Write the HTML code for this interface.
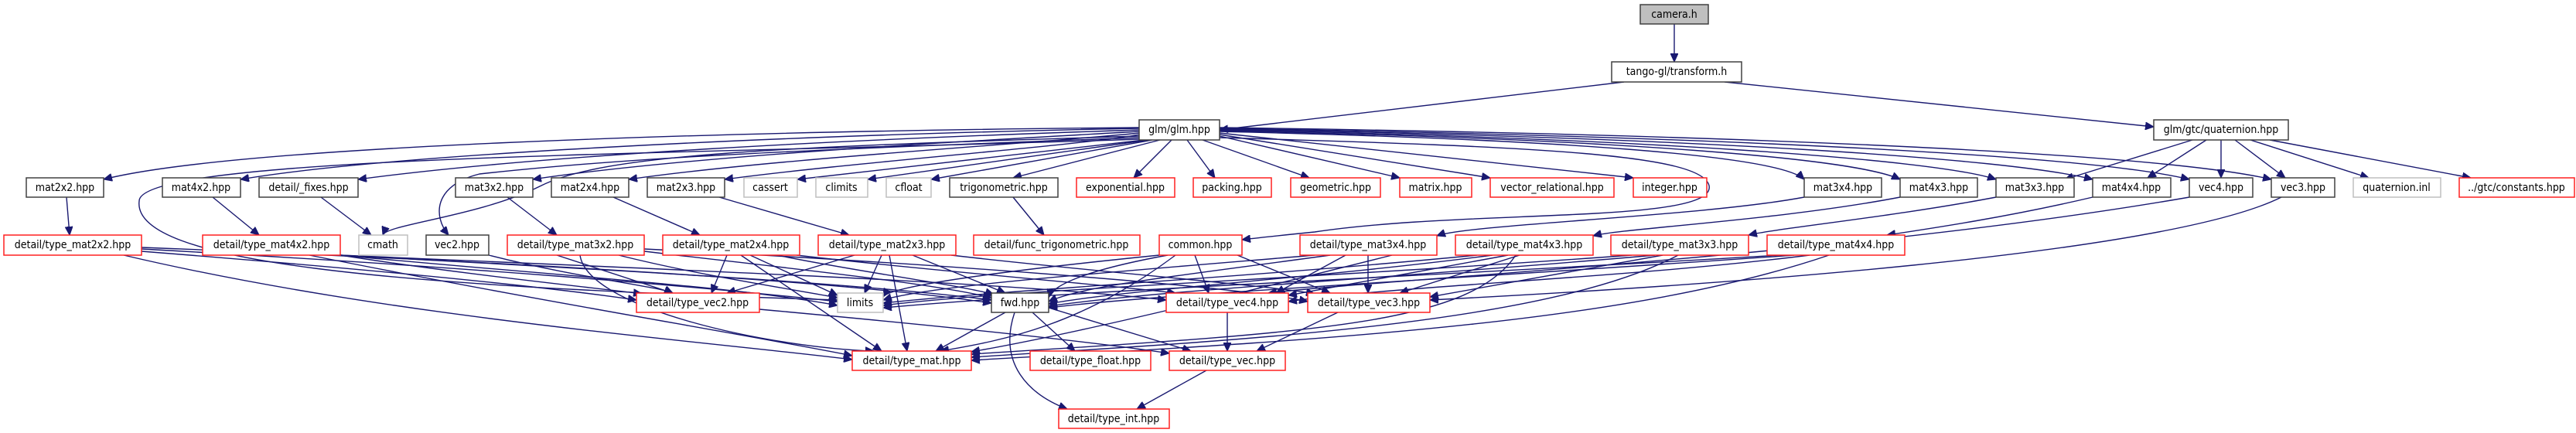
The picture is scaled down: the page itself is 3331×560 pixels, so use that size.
<!DOCTYPE html>
<html><head><meta charset="utf-8"><style>
html,body{margin:0;padding:0;background:#fff;width:3331px;height:560px;overflow:hidden}
svg{display:block}
text{font-family:"DejaVu Sans Condensed","DejaVu Sans","Liberation Sans",sans-serif;font-size:14px;fill:#000;text-anchor:middle;dominant-baseline:central}
.b{fill:#fff;stroke:#404040;stroke-width:1.5}
.r{fill:#fff;stroke:#ff2020;stroke-width:1.5}
.g{fill:#fff;stroke:#bfbfbf;stroke-width:1.5}
.e path{fill:none;stroke:#191970;stroke-width:1.4}
</style></head><body>
<svg width="3331" height="560" viewBox="0 0 3331 560" xmlns="http://www.w3.org/2000/svg">
<defs><marker id="a" markerUnits="userSpaceOnUse" markerWidth="12" markerHeight="10" refX="11" refY="5" orient="auto"><path d="M0,0 L11,5 L0,10 z" fill="#191970" stroke="#191970"/></marker></defs>
<g class="e" marker-end="url(#a)">
<path marker-end="url(#a)" d="M2165 31 L2165 80"/>
<path marker-end="url(#a)" d="M2100 106 L1577 168"/>
<path marker-end="url(#a)" d="M2230 106 L2785 164"/>
<!-- glm fan-out -->
<path marker-end="url(#a)" d="M1473 165 C900 170 300 190 134 232"/>
<path marker-end="url(#a)" d="M1473 166 C1000 175 500 200 311 232"/>
<path marker-end="url(#a)" d="M1473 168 C1100 180 700 200 463 232"/>
<path marker-end="url(#a)" d="M1473 170 C1300 180 900 200 689 232"/>
<path marker-end="url(#a)" d="M1473 172 C1350 185 1000 205 813 232"/>
<path marker-end="url(#a)" d="M1473 174 C1400 188 1100 210 937 232"/>
<path marker-end="url(#a)" d="M1480 181 L1031 232"/>
<path marker-end="url(#a)" d="M1485 181 L1122 232"/>
<path marker-end="url(#a)" d="M1490 181 L1204 232"/>
<path marker-end="url(#a)" d="M1500 181 L1310 230"/>
<path marker-end="url(#a)" d="M1515 181 L1466 230"/>
<path marker-end="url(#a)" d="M1535 181 L1571 230"/>
<path marker-end="url(#a)" d="M1555 181 L1693 230"/>
<path marker-end="url(#a)" d="M1577 176 L1810 230"/>
<path marker-end="url(#a)" d="M1577 174 L1927 230"/>
<path marker-end="url(#a)" d="M1577 172 L2112 230"/>
<path marker-end="url(#a)" d="M1577 170 C2000 180 2300 200 2333 232"/>
<path marker-end="url(#a)" d="M1577 169 C2100 180 2400 205 2457 232"/>
<path marker-end="url(#a)" d="M1577 168 C2100 178 2500 205 2581 232"/>
<path marker-end="url(#a)" d="M1577 167 C2200 178 2600 205 2706 232"/>
<path marker-end="url(#a)" d="M1577 166 C2200 176 2700 200 2831 232"/>
<path marker-end="url(#a)" d="M1577 165 C2300 175 2800 200 2937 232"/>
<path marker-end="url(#a)" d="M1473 176 C1000 190 780 200 700 240 C620 280 500 290 495 304"/>
<path marker-end="url(#a)" d="M1473 178 C1000 195 800 205 620 225 C560 240 560 280 580 304"/>
<path marker-end="url(#a)" d="M1577 178 C2000 190 2200 200 2210 240 C2220 290 1900 270 1700 300 C1650 305 1640 306 1606 310"/>
<path marker-end="url(#a)" d="M1473 180 C900 200 180 200 180 260 C170 340 500 370 1083 388"/>
<!-- quaternion -->
<path marker-end="url(#a)" d="M2835 181 L2670 232"/>
<path marker-end="url(#a)" d="M2853 181 L2777 230"/>
<path marker-end="url(#a)" d="M2872 181 L2872 230"/>
<path marker-end="url(#a)" d="M2890 181 L2955 230"/>
<path marker-end="url(#a)" d="M2910 181 L3063 230"/>
<path marker-end="url(#a)" d="M2935 181 L3195 230"/>
<!-- row2 -> row3 -->
<path marker-end="url(#a)" d="M86 255 L90 304"/>
<path marker-end="url(#a)" d="M275 255 L335 304"/>
<path marker-end="url(#a)" d="M415 255 L480 304"/>
<path marker-end="url(#a)" d="M656 255 L720 304"/>
<path marker-end="url(#a)" d="M793 255 L905 304"/>
<path marker-end="url(#a)" d="M930 255 L1098 304"/>
<path marker-end="url(#a)" d="M1310 255 L1350 304"/>
<path marker-end="url(#a)" d="M2333 255 C2200 280 1900 290 1858 305"/>
<path marker-end="url(#a)" d="M2457 255 C2300 285 2100 295 2060 305"/>
<path marker-end="url(#a)" d="M2581 255 C2450 280 2300 295 2261 304"/>
<path marker-end="url(#a)" d="M2706 255 C2600 280 2500 295 2440 304"/>
<path marker-end="url(#a)" d="M2831 255 C2400 330 1800 360 1640 379"/>
<path marker-end="url(#a)" d="M2950 255 C2800 330 2200 370 1849 388"/>
<path marker-end="url(#a)" d="M632 330 C750 360 850 370 870 379"/>
<!-- row3 -> row4 -->
<path marker-end="url(#a)" d="M183 325 C500 350 700 370 823 388"/>
<path marker-end="url(#a)" d="M183 322 C600 345 900 370 1083 390"/>
<path marker-end="url(#a)" d="M183 320 C700 340 1100 365 1282 392"/>
<path marker-end="url(#a)" d="M160 330 C500 410 900 440 1102 465"/>
<path marker-end="url(#a)" d="M440 330 C600 355 750 370 830 380"/>
<path marker-end="url(#a)" d="M440 330 C700 355 950 370 1083 395"/>
<path marker-end="url(#a)" d="M440 330 C800 350 1100 365 1282 388"/>
<path marker-end="url(#a)" d="M440 330 C900 350 1300 365 1508 388"/>
<path marker-end="url(#a)" d="M400 330 C700 390 950 430 1102 460"/>
<path marker-end="url(#a)" d="M720 330 L870 379"/>
<path marker-end="url(#a)" d="M800 330 C900 355 1000 370 1083 385"/>
<path marker-end="url(#a)" d="M833 325 C1000 345 1200 365 1282 385"/>
<path marker-end="url(#a)" d="M833 322 C1200 340 1600 370 1691 390"/>
<path marker-end="url(#a)" d="M750 330 C760 400 1000 450 1130 454"/>
<path marker-end="url(#a)" d="M940 330 L920 379"/>
<path marker-end="url(#a)" d="M970 330 L1083 382"/>
<path marker-end="url(#a)" d="M1005 330 C1100 350 1250 370 1285 381"/>
<path marker-end="url(#a)" d="M1030 330 C1200 350 1450 370 1520 379"/>
<path marker-end="url(#a)" d="M958 330 L1140 454"/>
<path marker-end="url(#a)" d="M1105 330 L940 379"/>
<path marker-end="url(#a)" d="M1140 330 L1118 379"/>
<path marker-end="url(#a)" d="M1180 330 L1300 379"/>
<path marker-end="url(#a)" d="M1230 330 C1400 350 1650 370 1700 380"/>
<path marker-end="url(#a)" d="M1150 330 L1173 454"/>
<path marker-end="url(#a)" d="M1499 330 C1300 350 1150 370 1142 384"/>
<path marker-end="url(#a)" d="M1510 330 C1400 350 1360 370 1356 385"/>
<path marker-end="url(#a)" d="M1545 330 L1563 379"/>
<path marker-end="url(#a)" d="M1600 330 L1720 379"/>
<path marker-end="url(#a)" d="M1520 330 C1400 420 1300 440 1216 454"/>
<path marker-end="url(#a)" d="M1700 330 C1400 355 1200 370 1142 388"/>
<path marker-end="url(#a)" d="M1720 330 C1500 360 1400 370 1356 390"/>
<path marker-end="url(#a)" d="M1740 330 L1650 379"/>
<path marker-end="url(#a)" d="M1769 330 L1769 379"/>
<path marker-end="url(#a)" d="M1800 330 C1600 380 1400 430 1256 455"/>
<path marker-end="url(#a)" d="M1910 330 C1600 360 1300 375 1142 392"/>
<path marker-end="url(#a)" d="M1930 330 C1700 360 1450 375 1356 393"/>
<path marker-end="url(#a)" d="M1950 330 L1666 382"/>
<path marker-end="url(#a)" d="M1965 330 L1810 379"/>
<path marker-end="url(#a)" d="M1960 330 C1900 420 1700 430 1256 458"/>
<path marker-end="url(#a)" d="M2110 330 C1700 360 1300 375 1142 395"/>
<path marker-end="url(#a)" d="M2140 330 C1800 360 1500 375 1356 396"/>
<path marker-end="url(#a)" d="M2150 330 L1849 384"/>
<path marker-end="url(#a)" d="M2170 330 C2000 420 1600 440 1256 462"/>
<path marker-end="url(#a)" d="M2300 330 C1800 360 1400 375 1142 398"/>
<path marker-end="url(#a)" d="M2320 330 C1900 360 1500 380 1356 398"/>
<path marker-end="url(#a)" d="M2340 330 C2100 360 1800 370 1666 390"/>
<path marker-end="url(#a)" d="M2365 330 C2100 420 1700 440 1256 466"/>
<!-- row4 -> row5/6 -->
<path marker-end="url(#a)" d="M1300 404 L1210 454"/>
<path marker-end="url(#a)" d="M1335 404 L1390 454"/>
<path marker-end="url(#a)" d="M1356 398 L1540 454"/>
<path marker-end="url(#a)" d="M1312 404 C1290 470 1330 510 1380 529"/>
<path marker-end="url(#a)" d="M982 400 C1200 420 1400 440 1512 457"/>
<path marker-end="url(#a)" d="M1587 404 L1587 454"/>
<path marker-end="url(#a)" d="M1730 404 L1625 454"/>
<path marker-end="url(#a)" d="M1560 479 L1470 529"/>
</g>
<!-- nodes -->
<rect class="b" x="2121" y="6" width="88" height="25" style="fill:#bfbfbf"/><text x="2165" y="19">camera.h</text>
<rect class="b" x="2084" y="80" width="168" height="26"/><text x="2168" y="93">tango-gl/transform.h</text>
<rect class="b" x="1473" y="155" width="104" height="26"/><text x="1525" y="168">glm/glm.hpp</text>
<rect class="b" x="2785" y="155" width="174" height="26"/><text x="2872" y="168">glm/gtc/quaternion.hpp</text>

<rect class="b" x="34" y="230" width="100" height="25"/><text x="84" y="243">mat2x2.hpp</text>
<rect class="b" x="210" y="230" width="101" height="25"/><text x="260" y="243">mat4x2.hpp</text>
<rect class="b" x="335" y="230" width="128" height="25"/><text x="399" y="243">detail/_fixes.hpp</text>
<rect class="b" x="589" y="230" width="100" height="25"/><text x="639" y="243">mat3x2.hpp</text>
<rect class="b" x="713" y="230" width="100" height="25"/><text x="763" y="243">mat2x4.hpp</text>
<rect class="b" x="837" y="230" width="100" height="25"/><text x="887" y="243">mat2x3.hpp</text>
<rect class="g" x="962" y="230" width="69" height="25"/><text x="996" y="243">cassert</text>
<rect class="g" x="1055" y="230" width="67" height="25"/><text x="1088" y="243">climits</text>
<rect class="g" x="1146" y="230" width="58" height="25"/><text x="1175" y="243">cfloat</text>
<rect class="b" x="1228" y="230" width="140" height="25"/><text x="1298" y="243">trigonometric.hpp</text>
<rect class="r" x="1392" y="230" width="127" height="25"/><text x="1455" y="243">exponential.hpp</text>
<rect class="r" x="1543" y="230" width="101" height="25"/><text x="1593" y="243">packing.hpp</text>
<rect class="r" x="1669" y="230" width="116" height="25"/><text x="1727" y="243">geometric.hpp</text>
<rect class="r" x="1810" y="230" width="93" height="25"/><text x="1856" y="243">matrix.hpp</text>
<rect class="r" x="1927" y="230" width="160" height="25"/><text x="2007" y="243">vector_relational.hpp</text>
<rect class="r" x="2112" y="230" width="95" height="25"/><text x="2159" y="243">integer.hpp</text>
<rect class="b" x="2333" y="230" width="100" height="25"/><text x="2383" y="243">mat3x4.hpp</text>
<rect class="b" x="2457" y="230" width="100" height="25"/><text x="2507" y="243">mat4x3.hpp</text>
<rect class="b" x="2581" y="230" width="101" height="25"/><text x="2631" y="243">mat3x3.hpp</text>
<rect class="b" x="2706" y="230" width="101" height="25"/><text x="2756" y="243">mat4x4.hpp</text>
<rect class="b" x="2831" y="230" width="82" height="25"/><text x="2872" y="243">vec4.hpp</text>
<rect class="b" x="2937" y="230" width="82" height="25"/><text x="2978" y="243">vec3.hpp</text>
<rect class="g" x="3043" y="230" width="113" height="25"/><text x="3099" y="243">quaternion.inl</text>
<rect class="r" x="3180" y="230" width="149" height="25"/><text x="3254" y="243">../gtc/constants.hpp</text>

<rect class="r" x="5" y="304" width="178" height="26"/><text x="94" y="317">detail/type_mat2x2.hpp</text>
<rect class="r" x="262" y="304" width="178" height="26"/><text x="351" y="317">detail/type_mat4x2.hpp</text>
<rect class="g" x="464" y="304" width="63" height="26"/><text x="495" y="317">cmath</text>
<rect class="b" x="551" y="304" width="81" height="26"/><text x="591" y="317">vec2.hpp</text>
<rect class="r" x="656" y="304" width="177" height="26"/><text x="744" y="317">detail/type_mat3x2.hpp</text>
<rect class="r" x="857" y="304" width="177" height="26"/><text x="945" y="317">detail/type_mat2x4.hpp</text>
<rect class="r" x="1058" y="304" width="178" height="26"/><text x="1147" y="317">detail/type_mat2x3.hpp</text>
<rect class="r" x="1259" y="304" width="215" height="26"/><text x="1366" y="317">detail/func_trigonometric.hpp</text>
<rect class="r" x="1499" y="304" width="107" height="26"/><text x="1552" y="317">common.hpp</text>
<rect class="r" x="1681" y="304" width="177" height="26"/><text x="1769" y="317">detail/type_mat3x4.hpp</text>
<rect class="r" x="1882" y="304" width="178" height="26"/><text x="1971" y="317">detail/type_mat4x3.hpp</text>
<rect class="r" x="2083" y="304" width="178" height="26"/><text x="2172" y="317">detail/type_mat3x3.hpp</text>
<rect class="r" x="2285" y="304" width="178" height="26"/><text x="2374" y="317">detail/type_mat4x4.hpp</text>

<rect class="r" x="823" y="379" width="159" height="25"/><text x="902" y="392">detail/type_vec2.hpp</text>
<rect class="g" x="1083" y="379" width="59" height="25"/><text x="1112" y="392">limits</text>
<rect class="b" x="1282" y="379" width="74" height="25"/><text x="1319" y="392">fwd.hpp</text>
<rect class="r" x="1508" y="379" width="158" height="25"/><text x="1587" y="392">detail/type_vec4.hpp</text>
<rect class="r" x="1691" y="379" width="158" height="25"/><text x="1770" y="392">detail/type_vec3.hpp</text>

<rect class="r" x="1102" y="454" width="154" height="25"/><text x="1179" y="467">detail/type_mat.hpp</text>
<rect class="r" x="1332" y="454" width="156" height="25"/><text x="1410" y="467">detail/type_float.hpp</text>
<rect class="r" x="1512" y="454" width="150" height="25"/><text x="1587" y="467">detail/type_vec.hpp</text>
<rect class="r" x="1369" y="529" width="143" height="25"/><text x="1440" y="542">detail/type_int.hpp</text>
</svg>
</body></html>
